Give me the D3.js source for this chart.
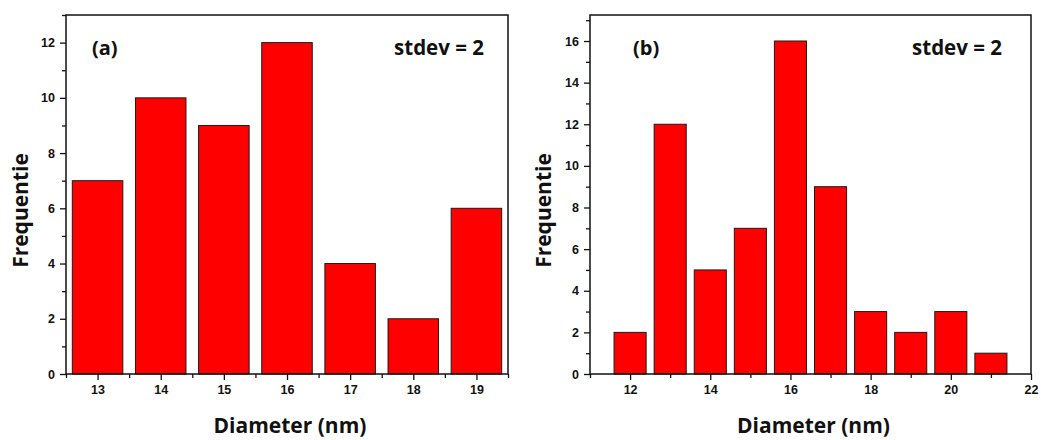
<!DOCTYPE html>
<html>
<head>
<meta charset="utf-8">
<script src="https://cdn.jsdelivr.net/npm/d3@7"></script>
<style>
  html, body { margin: 0; padding: 0; background: #fff; }
  svg { display: block; }
  .tick-label { font-family: "Liberation Sans", Arial, sans-serif; font-weight: bold; font-size: 12.5px; fill: #111; }
  .title { font-family: "Open Sans", sans-serif; font-weight: bold; fill: #111; }
</style>
</head>
<body>
<script>
// Histogram (a)
const diamA = [13, 14, 15, 16, 17, 18, 19];
const freqA = [7, 10, 9, 12, 4, 2, 6];
const xTicksA = [13, 14, 15, 16, 17, 18, 19];
const yTicksA = [0, 2, 4, 6, 8, 10, 12];

// Histogram (b)
const diamB = [12, 13, 14, 15, 16, 17, 18, 19, 20, 21];
const freqB = [2, 12, 5, 7, 16, 9, 3, 2, 3, 1];
const xTicksB = [12, 14, 16, 18, 20, 22];
const yTicksB = [0, 2, 4, 6, 8, 10, 12, 14, 16];

const labelsText = { tag: ["(a)", "(b)"], note: "stdev = 2", xTitle: "Diameter (nm)", yTitle: "Frequentie" };

const W = 1041, H = 440;
const svg = d3.select("body").append("svg").attr("width", W).attr("height", H);

const panels = [
  {
    diam: diamA, freq: freqA, xTicks: xTicksA, yTicks: yTicksA,
    xDomain: [12.5, 19.5], yDomain: [0, 13],
    xMinor: d3.range(12.5, 19.51, 1), yMinor: d3.range(1, 13.5, 2),
    left: 66, right: 508, tag: labelsText.tag[0],
    tagX: 92, noteX: 484, yTitleX: 28
  },
  {
    diam: diamB, freq: freqB, xTicks: xTicksB, yTicks: yTicksB,
    xDomain: [11, 22], yDomain: [0, 17.25],
    xMinor: d3.range(11, 22, 2), yMinor: d3.range(1, 17.5, 2),
    left: 590, right: 1031, tag: labelsText.tag[1],
    tagX: 633, noteX: 1002, yTitleX: 551
  }
];

const plotTop = 15, plotBottom = 374;
const barWidth = 0.8;

panels.forEach(p => {
  const x = d3.scaleLinear().domain(p.xDomain).range([p.left, p.right]);
  const y = d3.scaleLinear().domain(p.yDomain).range([plotBottom, plotTop]);
  const g = svg.append("g");

  // bars
  g.selectAll("rect.bar")
    .data(p.diam.map((d, i) => ({ d, v: p.freq[i] })))
    .join("rect")
    .attr("class", "bar")
    .attr("x", d => x(d.d - barWidth / 2))
    .attr("width", d => x(d.d + barWidth / 2) - x(d.d - barWidth / 2))
    .attr("y", d => y(d.v))
    .attr("height", d => y(0) - y(d.v))
    .attr("fill", "#ff0000")
    .attr("stroke", "#1a1a1a")
    .attr("stroke-width", 1);

  // x axis: major ticks with labels, minor ticks between
  const xAxis = d3.axisBottom(x).tickValues(p.xTicks).tickSize(6).tickPadding(5).tickFormat(d3.format("d"));
  const xg = g.append("g").attr("transform", `translate(0,${plotBottom})`).call(xAxis);
  const xMinorAxis = d3.axisBottom(x).tickValues(p.xMinor).tickSize(4).tickFormat("");
  const xmg = g.append("g").attr("transform", `translate(0,${plotBottom})`).call(xMinorAxis);

  // y axis
  const yAxis = d3.axisLeft(y).tickValues(p.yTicks).tickSize(6).tickPadding(5).tickFormat(d3.format("d"));
  const yg = g.append("g").attr("transform", `translate(${p.left},0)`).call(yAxis);
  const yMinorAxis = d3.axisLeft(y).tickValues(p.yMinor).tickSize(4).tickFormat("");
  const ymg = g.append("g").attr("transform", `translate(${p.left},0)`).call(yMinorAxis);

  [xg, xmg, yg, ymg].forEach(a => {
    a.select(".domain").remove();
    a.selectAll(".tick line").attr("stroke", "#111").attr("stroke-width", 1.3);
    a.selectAll(".tick text").attr("class", "tick-label").attr("fill", null);
  });

  // frame
  g.append("rect")
    .attr("x", p.left).attr("y", plotTop)
    .attr("width", p.right - p.left).attr("height", plotBottom - plotTop)
    .attr("fill", "none").attr("stroke", "#111").attr("stroke-width", 1.5);

  // panel tag and note
  g.append("text").attr("class", "title").attr("x", p.tagX).attr("y", 55)
    .attr("font-size", 20).text(p.tag);
  g.append("text").attr("class", "title").attr("x", p.noteX).attr("y", 55)
    .attr("text-anchor", "end").attr("font-size", 20.5).text(labelsText.note);

  // axis titles
  g.append("text").attr("class", "title")
    .attr("x", (p.left + p.right) / 2 + 3).attr("y", 433)
    .attr("text-anchor", "middle").attr("font-size", 21).text(labelsText.xTitle);
  g.append("text").attr("class", "title")
    .attr("transform", `translate(${p.yTitleX},${(plotTop + plotBottom) / 2 + 16}) rotate(-90)`)
    .attr("text-anchor", "middle").attr("font-size", 21).text(labelsText.yTitle);
});
</script>
</body>
</html>
